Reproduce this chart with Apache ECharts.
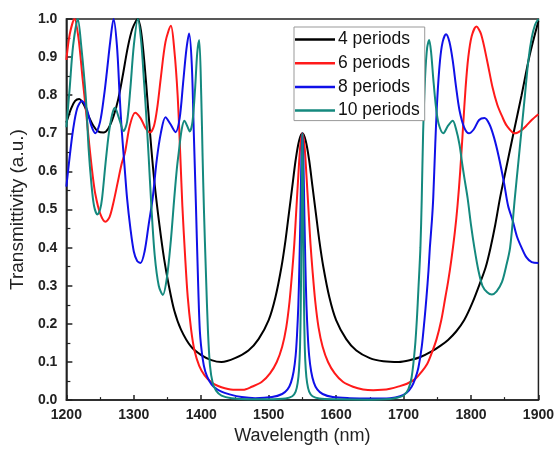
<!DOCTYPE html>
<html>
<head>
<meta charset="utf-8">
<script src="https://cdn.jsdelivr.net/npm/echarts@6/dist/echarts.min.js"></script>
<style>
html,body{margin:0;padding:0;background:#fff;}
#chart{width:557px;height:450px;}
</style>
</head>
<body>
<div id="chart"></div>
<script>
// ---- data (wavelength nm, transmittivity) ----
const seriesNames = ['4 periods', '6 periods', '8 periods', '10 periods'];
const xTicks = [1200, 1300, 1400, 1500, 1600, 1700, 1800, 1900];
const yTicks = [0.0, 0.1, 0.2, 0.3, 0.4, 0.5, 0.6, 0.7, 0.8, 0.9, 1.0];

const p4 = [[1200,0.728],[1207,0.765],[1213,0.785],[1219,0.79],[1226,0.775],[1233,0.745],[1240,0.72],[1247,0.705],[1255,0.702],[1262,0.712],[1270,0.745],[1277,0.79],[1284,0.855],[1291,0.925],[1298,0.975],[1306,1.0],[1311,0.965],[1316,0.88],[1321,0.77],[1326,0.66],[1331,0.565],[1338,0.46],[1345,0.37],[1352,0.30],[1360,0.235],[1370,0.185],[1385,0.14],[1400,0.118],[1415,0.105],[1430,0.10],[1450,0.11],[1470,0.13],[1485,0.16],[1500,0.21],[1510,0.27],[1519,0.35],[1525,0.42],[1530,0.49],[1535,0.56],[1540,0.63],[1545,0.68],[1550,0.70],[1555,0.68],[1560,0.63],[1565,0.56],[1570,0.49],[1575,0.42],[1581,0.35],[1590,0.27],[1600,0.21],[1615,0.16],[1630,0.13],[1650,0.11],[1670,0.102],[1693,0.10],[1710,0.105],[1725,0.113],[1741,0.127],[1755,0.143],[1766,0.158],[1778,0.18],[1790,0.21],[1802,0.255],[1814,0.31],[1822,0.35],[1829,0.40],[1836,0.46],[1843,0.53],[1850,0.59],[1863,0.70],[1875,0.80],[1887,0.905],[1900,0.995]];

const p6 = [[1200,0.893],[1205,0.96],[1212,1.0],[1218,0.95],[1224,0.845],[1229,0.76],[1234,0.67],[1239,0.59],[1243,0.54],[1250,0.49],[1258,0.468],[1264,0.48],[1270,0.52],[1276,0.57],[1282,0.62],[1287,0.65],[1294,0.72],[1302,0.754],[1310,0.74],[1317,0.715],[1324,0.702],[1330,0.72],[1335,0.77],[1340,0.845],[1347,0.94],[1355,0.982],[1360,0.92],[1365,0.80],[1369,0.64],[1372,0.51],[1376,0.38],[1380,0.27],[1385,0.185],[1390,0.13],[1397,0.09],[1405,0.065],[1415,0.047],[1425,0.037],[1435,0.031],[1450,0.027],[1462,0.027],[1475,0.035],[1490,0.048],[1502,0.07],[1512,0.10],[1520,0.14],[1526,0.19],[1531,0.26],[1535,0.34],[1538,0.41],[1541,0.50],[1544,0.59],[1547,0.67],[1550,0.70],[1553,0.67],[1556,0.59],[1559,0.50],[1562,0.41],[1565,0.34],[1569,0.26],[1574,0.19],[1580,0.14],[1588,0.10],[1598,0.07],[1610,0.048],[1625,0.035],[1640,0.028],[1655,0.026],[1668,0.027],[1680,0.030],[1693,0.036],[1705,0.043],[1717,0.055],[1727,0.075],[1735,0.095],[1741,0.12],[1749,0.16],[1756,0.21],[1762,0.27],[1766,0.31],[1771,0.37],[1776,0.44],[1780,0.51],[1784,0.60],[1788,0.71],[1792,0.82],[1796,0.90],[1801,0.955],[1808,0.98],[1815,0.96],[1824,0.89],[1832,0.82],[1839,0.775],[1846,0.745],[1853,0.72],[1865,0.70],[1874,0.707],[1882,0.72],[1890,0.735],[1900,0.75]];

const p8 = [[1200,0.56],[1205,0.64],[1210,0.71],[1216,0.765],[1223,0.785],[1230,0.765],[1237,0.72],[1243,0.70],[1250,0.73],[1256,0.80],[1260,0.86],[1265,0.94],[1270,1.0],[1275,0.93],[1279,0.80],[1282,0.71],[1286,0.62],[1290,0.53],[1295,0.45],[1300,0.39],[1305,0.365],[1310,0.36],[1316,0.39],[1322,0.46],[1328,0.53],[1334,0.63],[1340,0.70],[1347,0.742],[1354,0.725],[1362,0.703],[1368,0.74],[1373,0.83],[1378,0.92],[1382,0.962],[1386,0.88],[1389,0.70],[1392,0.52],[1395,0.33],[1398,0.18],[1402,0.11],[1406,0.075],[1412,0.05],[1418,0.036],[1430,0.022],[1442,0.015],[1460,0.008],[1480,0.005],[1505,0.008],[1520,0.016],[1528,0.028],[1533,0.046],[1537,0.075],[1540,0.117],[1542,0.17],[1544,0.25],[1545.5,0.35],[1547,0.48],[1548.5,0.63],[1550,0.70],[1551.5,0.63],[1553,0.48],[1554.5,0.35],[1556,0.25],[1558,0.17],[1560,0.117],[1563,0.075],[1567,0.046],[1572,0.028],[1580,0.016],[1595,0.008],[1620,0.005],[1650,0.004],[1680,0.005],[1695,0.01],[1705,0.02],[1712,0.035],[1717,0.055],[1722,0.085],[1727,0.14],[1731,0.21],[1734,0.27],[1737,0.34],[1739,0.40],[1742,0.47],[1744,0.53],[1747,0.67],[1750,0.79],[1754,0.89],[1758,0.94],[1763,0.96],[1768,0.94],[1773,0.89],[1778,0.82],[1783,0.76],[1790,0.715],[1797,0.70],[1804,0.71],[1812,0.735],[1820,0.74],[1827,0.725],[1834,0.69],[1841,0.64],[1849,0.57],[1855,0.51],[1862,0.47],[1868,0.43],[1875,0.40],[1882,0.375],[1890,0.362],[1900,0.36]];

const p10 = [[1200,0.716],[1205,0.82],[1210,0.93],[1217,1.0],[1222,0.93],[1229,0.79],[1233,0.66],[1237,0.57],[1241,0.51],[1246,0.487],[1250,0.50],[1253,0.53],[1258,0.62],[1263,0.70],[1268,0.75],[1272,0.767],[1278,0.74],[1285,0.706],[1290,0.73],[1295,0.82],[1300,0.93],[1306,1.0],[1311,0.94],[1315,0.84],[1318,0.76],[1322,0.64],[1326,0.51],[1331,0.38],[1337,0.30],[1343,0.276],[1349,0.32],[1355,0.42],[1360,0.53],[1364,0.61],[1367,0.655],[1371,0.71],[1375,0.733],[1379,0.72],[1383,0.705],[1387,0.73],[1391,0.82],[1394,0.91],[1397,0.945],[1400,0.80],[1402,0.64],[1404,0.50],[1407,0.33],[1410,0.18],[1413,0.09],[1417,0.045],[1422,0.025],[1430,0.012],[1445,0.005],[1470,0.002],[1500,0.002],[1525,0.004],[1535,0.01],[1540,0.022],[1543,0.045],[1545,0.08],[1546.5,0.14],[1547.5,0.24],[1548.2,0.35],[1548.8,0.48],[1549.4,0.63],[1550,0.70],[1550.6,0.63],[1551.2,0.48],[1551.8,0.35],[1552.5,0.24],[1553.5,0.14],[1555,0.08],[1557,0.045],[1560,0.022],[1565,0.01],[1575,0.004],[1600,0.002],[1650,0.001],[1680,0.003],[1690,0.006],[1700,0.012],[1707,0.028],[1712,0.06],[1717,0.14],[1720,0.22],[1722,0.29],[1725,0.40],[1727,0.53],[1729,0.70],[1732,0.85],[1735,0.925],[1738,0.945],[1741,0.91],[1744,0.845],[1748,0.77],[1752,0.725],[1759,0.70],[1766,0.72],[1773,0.733],[1778,0.71],[1783,0.67],[1787,0.62],[1790,0.585],[1795,0.53],[1800,0.46],[1805,0.40],[1811,0.34],[1817,0.30],[1824,0.283],[1831,0.277],[1838,0.285],[1846,0.31],[1852,0.35],[1858,0.40],[1865,0.53],[1870,0.62],[1875,0.71],[1880,0.80],[1885,0.89],[1890,0.95],[1895,0.985],[1900,1.0]];

const colors = ['#000000', '#ff1a1a', '#1010e8', '#14897e'];
const dataList = [p4, p6, p8, p10];

const chart = echarts.init(document.getElementById('chart'), null, {renderer: 'canvas'});
const font = 'Liberation Sans, Arial, sans-serif';

const option = {
  backgroundColor: '#ffffff',
  animation: false,
  color: colors,
  grid: {left: 62, right: 15, top: 19, bottom: 46, show: true, borderColor: '#222', borderWidth: 1.5, backgroundColor: 'transparent'},
  legend: {
    orient: 'vertical',
    left: 294, top: 27,
    data: seriesNames,
    icon: 'rect',
    itemWidth: 40, itemHeight: 2.5, itemGap: 3.7,
    padding: [2.5, 5, 0, 1],
    borderColor: '#999', borderWidth: 1,
    backgroundColor: '#fff',
    textStyle: {fontFamily: font, fontSize: 17.5, lineHeight: 20, color: '#111', padding: [0, 0, 0, -2]}
  },
  xAxis: {
    type: 'value', min: xTicks[0], max: xTicks[xTicks.length - 1], interval: 100,
    name: 'Wavelength (nm)', nameLocation: 'middle', nameGap: 25,
    nameTextStyle: {fontFamily: font, fontSize: 18, color: '#222'},
    axisLine: {lineStyle: {color: '#222', width: 1.5}},
    axisTick: {inside: true, length: 5, lineStyle: {color: '#222', width: 1.5}},
    minorTick: {show: true, splitNumber: 2, length: 3, lineStyle: {color: '#222', width: 1.2}},
    axisLabel: {fontFamily: font, fontSize: 14, fontWeight: 'bold', color: '#222', margin: 8,
      formatter: v => String(v)},
    splitLine: {show: false}
  },
  yAxis: {
    type: 'value', min: yTicks[0], max: yTicks[yTicks.length - 1], interval: 0.1,
    name: 'Transmittivity (a.u.)', nameLocation: 'middle', nameGap: 32,
    nameTextStyle: {fontFamily: font, fontSize: 19, color: '#222'},
    axisLine: {show: true, lineStyle: {color: '#222', width: 1.5}},
    axisTick: {inside: true, length: 6, lineStyle: {color: '#222', width: 1.5}},
    minorTick: {show: true, splitNumber: 2, length: 4, lineStyle: {color: '#222', width: 1.2}},
    axisLabel: {fontFamily: font, fontSize: 14, fontWeight: 'bold', color: '#222', margin: 9,
      formatter: v => v.toFixed(1)},
    splitLine: {show: false}
  },
  series: dataList.map((d, i) => ({
    name: seriesNames[i],
    type: 'line',
    data: d,
    symbol: 'none',
    smooth: 0.3,
    clip: true,
    lineStyle: {width: 2, color: colors[i]},
    itemStyle: {color: colors[i]}
  }))
};
chart.setOption(option);
</script>
</body>
</html>
